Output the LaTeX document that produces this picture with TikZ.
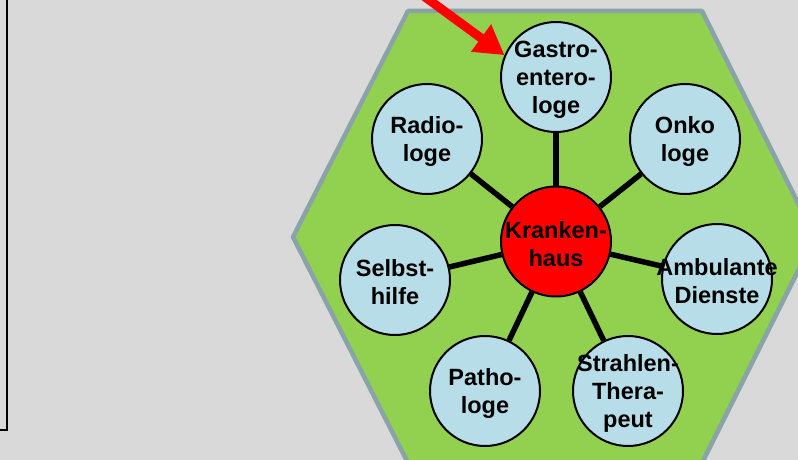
\documentclass[tikz,border=0pt]{standalone}
\usepackage{fontspec}
\setmainfont{Liberation Sans}
\usetikzlibrary{arrows.meta}
\definecolor{bg}{RGB}{217,217,217}
\definecolor{hexgreen}{RGB}{146,208,80}
\definecolor{hexborder}{RGB}{138,163,168}
\definecolor{lightblue}{RGB}{183,222,232}
\definecolor{arrowred}{RGB}{255,0,0}
\tikzset{
  topic/.style={circle, draw=black, line width=2pt, fill=lightblue, minimum size=110pt, inner sep=0pt},
  hub/.style={topic, fill=arrowred},
  topictext/.style={align=center, inner sep=0pt, yshift=-2.5pt, font=\fontsize{23.5}{28}\selectfont\bfseries},
  spoke/.style={line width=5.5pt, draw=black},
  pointer/.style={draw=arrowred, line width=9pt, -{Triangle[length=29pt,width=32pt]}},
}
\begin{document}
\begin{tikzpicture}[x=1pt,y=-1pt]
\useasboundingbox (0,0) rectangle (798,460);
\fill[bg] (0,0) rectangle (798,460);
% left frame
\draw[line width=2pt, black] (-10,-10) rectangle (7,430);
% hexagon
\draw[line width=4.5pt, draw=hexborder, fill=hexgreen, line join=round]
  (408,11) -- (702,11) -- (815,237) -- (702,463) -- (408,463) -- (293,237) -- cycle;
% nodes
\node[hub, label={[topictext]center:Kranken-\\haus}] (kh) at (556,241.5) {};
\node[topic, label={[topictext]center:Gastro-\\entero-\\loge}] (ga) at (556,77) {};
\node[topic, label={[topictext]center:Radio-\\loge}] (ra) at (427,139) {};
\node[topic, label={[topictext]center:Onko\\loge}] (on) at (685,139) {};
\node[topic, label={[topictext]center:Selbst-\\hilfe}] (se) at (395,280) {};
\node[topic, label={[topictext]center:Ambulante\\Dienste}] (am) at (717,279) {};
\node[topic, label={[topictext]center:Patho-\\loge}] (pa) at (485,391) {};
\node[topic, label={[topictext]center:Strahlen-\\Thera-\\peut}] (st) at (628,391) {};
% connectors
\foreach \n in {ga,ra,on,se,am,pa,st}
  \draw[spoke] (kh) -- (\n);
% red arrow
\coordinate (arrstart) at (410,-14);
\draw[pointer] (arrstart) -- (ga.157);
\end{tikzpicture}
\end{document}
